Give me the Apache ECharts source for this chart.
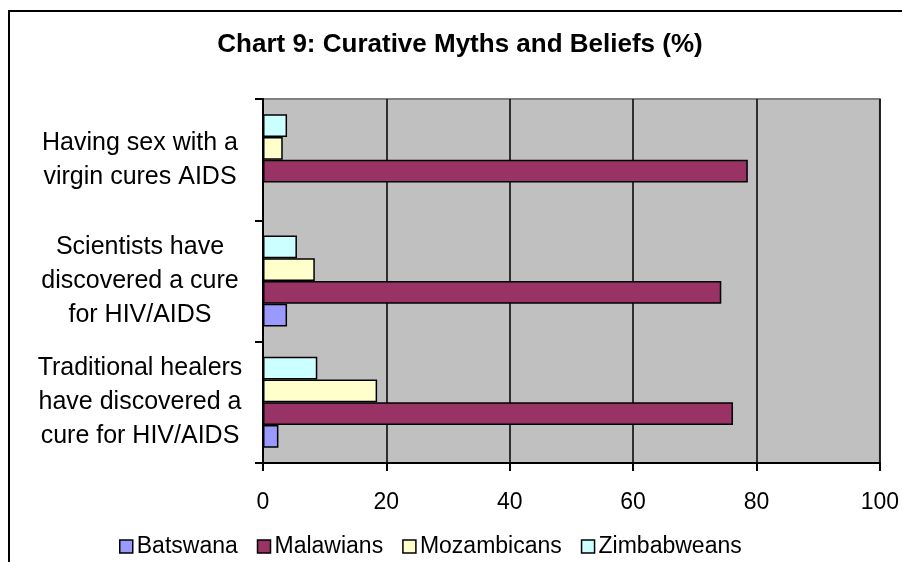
<!DOCTYPE html>
<html>
<head>
<meta charset="utf-8">
<script src="https://cdn.jsdelivr.net/npm/echarts@6/dist/echarts.min.js"></script>
<style>
  html, body { margin: 0; padding: 0; background: #ffffff; }
  #chart { width: 902px; height: 562px; }
</style>
</head>
<body>
<div id="chart"></div>
<script>
// Categories listed top-to-bottom (the category axis is inverted)
const categories = [
  'Having sex with a\nvirgin cures AIDS',
  'Scientists have\ndiscovered a cure\nfor HIV/AIDS',
  'Traditional healers\nhave discovered a\ncure for HIV/AIDS'
];

const seriesNames = ['Batswana', 'Malawians', 'Mozambicans', 'Zimbabweans'];

// Percentages per category, same order as categories
const batswana    = [null, 3.9, 2.5];
const malawians   = [78.6, 74.3, 76.2];
const mozambicans = [3.2, 8.4, 18.5];
const zimbabweans = [3.9, 5.5, 8.8];

const xTicks = [0, 20, 40, 60, 80, 100];

const seriesColors = ['#9999FF', '#993366', '#FFFFCC', '#CCFFFF'];
const seriesValues = [batswana, malawians, mozambicans, zimbabweans];

const FONT = '"Liberation Sans", Arial, sans-serif';

// Bars stack top-down in series order on the inverted axis, so the
// last group member (Zimbabweans) is added first to sit at the top.
const barSeries = seriesNames.map((name, i) => ({
  name: name,
  type: 'bar',
  data: seriesValues[i],
  barGap: '0%',
  barCategoryGap: '25%',
  itemStyle: { color: seriesColors[i], borderColor: '#000', borderWidth: 1.5 }
})).reverse();

const chart = echarts.init(document.getElementById('chart'), null, { renderer: 'canvas' });

chart.setOption({
  animation: false,
  backgroundColor: '#ffffff',
  textStyle: { fontFamily: FONT, color: '#000' },
  graphic: [
    {
      type: 'rect',
      shape: { x: 9, y: 11, width: 1000, height: 1000 },
      style: { fill: 'none', stroke: '#000', lineWidth: 2 },
      silent: true,
      z: -1
    },
    {
      type: 'text',
      x: 460,
      y: 45,
      style: {
        text: 'Chart 9: Curative Myths and Beliefs (%)',
        fontFamily: FONT,
        fontWeight: 'bold',
        fontSize: 26,
        fill: '#000',
        align: 'center',
        verticalAlign: 'middle'
      }
    }
  ],
  grid: {
    left: 263,
    right: 21,
    top: 99,
    bottom: 99,
    show: true,
    backgroundColor: '#C0C0C0',
    borderColor: '#808080',
    borderWidth: 2
  },
  legend: {
    data: seriesNames,
    left: 114,
    top: 530,
    icon: 'rect',
    itemWidth: 13,
    itemHeight: 13,
    itemGap: 19,
    itemStyle: { borderColor: '#000', borderWidth: 1.5 },
    textStyle: { fontFamily: FONT, fontSize: 23, color: '#000', padding: [0, 0, 0, -1] }
  },
  xAxis: {
    type: 'value',
    min: xTicks[0],
    max: xTicks[xTicks.length - 1],
    interval: xTicks[1] - xTicks[0],
    axisLine: { show: true, lineStyle: { color: '#000', width: 2 } },
    axisTick: { show: true, length: 8, lineStyle: { color: '#000', width: 2 } },
    axisLabel: { fontFamily: FONT, fontSize: 23, color: '#000', margin: 28 },
    splitLine: { show: true, lineStyle: { color: '#000', width: 1.5 } }
  },
  yAxis: {
    type: 'category',
    inverse: true,
    data: categories,
    axisLine: { show: true, lineStyle: { color: '#000', width: 2 } },
    axisTick: { show: true, length: 8, lineStyle: { color: '#000', width: 2 } },
    axisLabel: {
      fontFamily: FONT,
      fontSize: 25,
      lineHeight: 34,
      color: '#000',
      align: 'center',
      margin: 123
    },
    splitLine: { show: false }
  },
  series: barSeries
});
</script>
</body>
</html>
